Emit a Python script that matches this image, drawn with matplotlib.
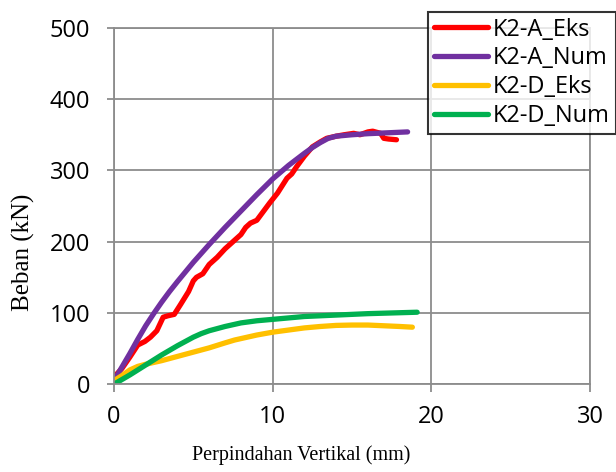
import matplotlib
matplotlib.use("Agg")
import matplotlib.pyplot as plt

# Data
a_eks_x = [0, 0.5, 1.0, 1.5, 1.95, 2.3, 2.7, 3.1, 3.4, 3.8, 4.2, 4.7, 5.0, 5.2, 5.6, 6.0,
           6.5, 7.0, 7.5, 8.0, 8.3, 8.6, 9.0, 9.5, 9.8, 10.3, 10.9, 11.2, 11.5, 12.0,
           12.5, 13.0, 13.4, 14.0, 14.5, 15.1, 15.5, 16.0, 16.3, 16.8, 17.0, 17.3, 17.8]
a_eks_y = [10, 22, 38, 55, 60, 66, 75, 94, 96, 98, 112, 130, 145, 150, 155, 168,
           178, 190, 200, 210, 220, 226, 230, 245, 254, 268, 289, 295, 305, 320,
           333, 340, 345, 348, 350, 352, 350, 354, 355, 352, 345, 344, 343]

a_num_x = [0, 0.5, 1, 1.5, 2, 2.5, 3, 3.5, 4, 5, 6, 7, 8, 9, 10, 11, 12, 12.5, 13,
           13.5, 14, 15, 16, 17, 18, 18.5]
a_num_y = [5, 24, 43, 63, 82, 99, 115, 130, 144, 171, 196, 220, 243, 266, 288, 307,
           324, 332, 339, 345, 348, 350, 351.5, 352.5, 353.5, 354]

d_eks_x = [0, 0.5, 1, 1.5, 2, 3, 4, 5, 6, 7, 7.6, 8, 9, 10, 11, 12, 13, 14, 15, 16,
           17, 18, 18.8]
d_eks_y = [5, 12, 20, 25, 28, 33, 39, 45, 51, 58, 62, 64, 69, 73, 76, 79, 81, 82.5,
           83, 83, 82, 81, 80]

d_num_x = [0, 1, 2, 3, 4, 5, 5.5, 6, 7, 7.6, 8, 9, 10, 12, 14, 16, 19.1]
d_num_y = [0, 13, 27, 41, 54, 66, 71, 75, 81, 84, 86, 89, 91, 95, 97, 99, 101]

fig = plt.figure(figsize=(6.16, 4.72), dpi=100)
ax = fig.add_axes([0.185, 0.186, 0.773, 0.755])

lw = 3.8
ax.plot(a_eks_x, a_eks_y, color="#FF0000", lw=lw, label="K2-A_Eks", solid_capstyle="round")
ax.plot(a_num_x, a_num_y, color="#7030A0", lw=lw, label="K2-A_Num", solid_capstyle="round")
ax.plot(d_eks_x, d_eks_y, color="#FFC000", lw=lw, label="K2-D_Eks", solid_capstyle="round")
ax.plot(d_num_x, d_num_y, color="#00B050", lw=lw, label="K2-D_Num", solid_capstyle="round")

ax.set_xlim(0, 30)
ax.set_ylim(0, 500)
ax.set_xticks([0, 10, 20, 30])
ax.set_yticks([0, 100, 200, 300, 400, 500])

grid_c = "#8c8c8c"
ax.grid(True, color=grid_c, lw=1.3)
ax.set_axisbelow(True)
for s in ax.spines.values():
    s.set_color(grid_c)
    s.set_linewidth(1.3)
ax.tick_params(axis="both", colors=grid_c, width=1.3, labelcolor="black",
               labelsize=17)
ax.tick_params(axis="x", length=6, pad=9)
ax.tick_params(axis="y", length=5, pad=12)
for t in ax.get_xticklabels() + ax.get_yticklabels():
    t.set_fontfamily("Open Sans")

ax.set_xlabel("Perpindahan Vertikal (mm)", fontfamily="Liberation Serif", fontsize=14.5)
ax.xaxis.set_label_coords(0.393, -0.172)
ax.set_ylabel("Beban (kN)", fontfamily="Liberation Serif", fontsize=18)
ax.yaxis.set_label_coords(-0.166, 0.37)

leg = fig.legend(loc="upper left", bbox_to_anchor=(0.695, 0.975),
                 prop={"family": "Open Sans", "size": 17}, frameon=True,
                 fancybox=False, edgecolor="black", handlelength=2.3,
                 handletextpad=0.2, labelspacing=0.2, borderpad=0.25,
                 borderaxespad=0)
leg.get_frame().set_linewidth(1.5)

fig.savefig("out.png", dpi=100)
